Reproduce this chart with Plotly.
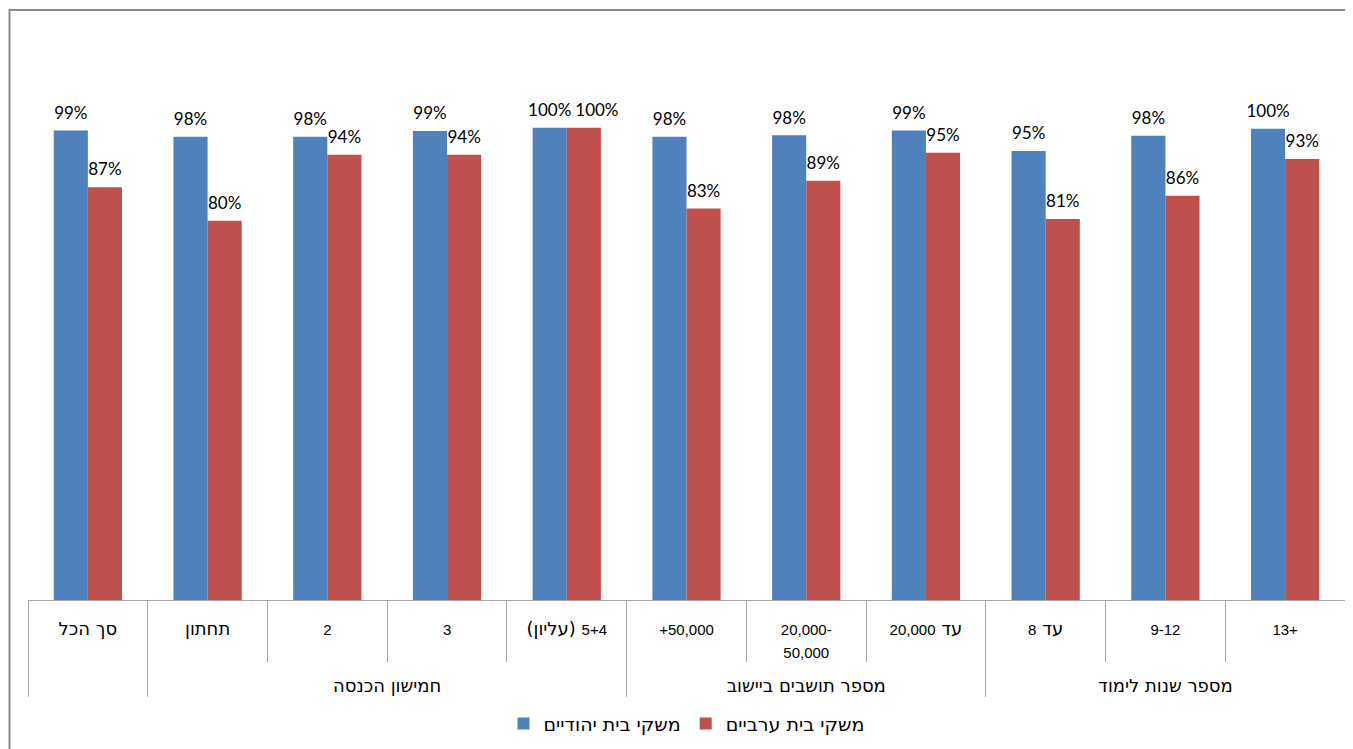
import re
import plotly.graph_objects as go

groups = [" ", "חמישון הכנסה", "חמישון הכנסה", "חמישון הכנסה", "חמישון הכנסה",
          "מספר תושבים ביישוב", "מספר תושבים ביישוב", "מספר תושבים ביישוב",
          "מספר שנות לימוד", "מספר שנות לימוד", "מספר שנות לימוד"]
categories = ["סך הכל", "תחתון", "2", "3", "(עליון) 5+4",
              "+50,000", "20,000-<br>50,000", "20,000 עד",
              "8 עד", "9-12", "13+"]
jewish = [0.994, 0.981, 0.981, 0.993, 1.0, 0.981, 0.984, 0.994, 0.951, 0.983, 0.998]
arab = [0.874, 0.803, 0.943, 0.943, 1.0, 0.829, 0.888, 0.947, 0.807, 0.856, 0.934]
series_names = ["משקי בית יהודיים", "משקי בית ערביים"]
colors = ["#4F81BD", "#C0504D"]

HEB = 18   # size for Hebrew text on the category axis
NUM = 15   # size for numerals on the category axis
PAD = "<br><span style='color:rgba(0,0,0,0)'>.</span>"


def fmt(label, pad_lines=0):
    out = re.sub(r"([0-9][0-9,+\-]*|\+[0-9,]+)",
                 lambda m: ("<span style='font-family:Liberation Sans;"
                            f"font-size:{NUM}px'>{m.group(1)}</span>"), label)
    return out + PAD * pad_lines


# the first label (no group) carries invisible spacer lines that push the group row down
cat_text = [fmt(c, 2 if i == 0 else 0) for i, c in enumerate(categories)]


def pct(v):
    return f"{round(v * 100)}%"


jewish_text = [pct(v) for v in jewish]
# when both labels of a pair are equal and wide (100%), nudge the second one right
arab_text = [("\u00a0" * 6 + pct(a)) if pct(a) == pct(j) == "100%" else pct(a)
             for j, a in zip(jewish, arab)]

fig = go.Figure()
for name, vals, txt, col in zip(series_names, [jewish, arab], [jewish_text, arab_text], colors):
    fig.add_trace(go.Bar(
        x=[groups, cat_text], y=vals, name=name, text=txt,
        marker=dict(color=col, line=dict(width=0)),
        texttemplate="<span style='font-size:17px'>%{text}</span>" + PAD,
        textposition="outside", cliponaxis=False, constraintext="none",
        textfont=dict(family="Lato", size=6, color="#000000"),
    ))

fig.update_layout(
    width=1345, height=741,
    margin=dict(l=20, r=8, t=22, b=148),
    paper_bgcolor="white", plot_bgcolor="white",
    barmode="group", bargap=0.43, bargroupgap=0,
    font=dict(family="DejaVu Sans", size=14, color="#000000"),
    showlegend=True,
    legend=dict(orientation="h", x=0.5, xanchor="center", y=-0.215, yanchor="middle",
                font=dict(family="DejaVu Sans", size=19), traceorder="normal"),
    xaxis=dict(type="multicategory", showline=True, linecolor="#A6A6A6", linewidth=1,
               ticks="outside", tickson="boundaries", ticklen=61, tickcolor="#A6A6A6",
               ticklabelstandoff=12,
               showdividers=True, dividercolor="#A6A6A6", dividerwidth=1,
               tickfont=dict(family="DejaVu Sans", size=HEB), showgrid=False),
    yaxis=dict(range=[0, 1.207], visible=False, showgrid=False),
    shapes=[dict(type="rect", xref="paper", yref="paper",
                 x0=-18.5 / 1317, x1=1.05, y0=-0.5, y1=1 + 20 / 571,
                 line=dict(color="#8C8C8C", width=2), fillcolor="rgba(0,0,0,0)")],
)

fig.write_html("out.html")
